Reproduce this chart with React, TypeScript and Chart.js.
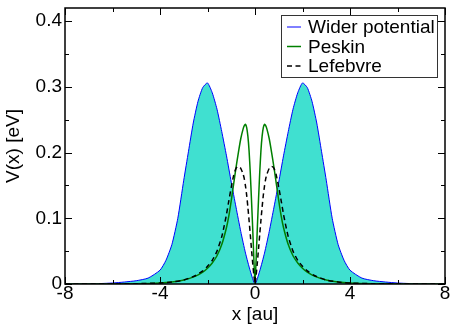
import { useEffect, useRef } from 'react';
import { Chart, registerables } from 'chart.js';

Chart.register(...registerables);

const FONT = '"Liberation Sans", Arial, Helvetica, sans-serif';

// Wider potential (filled)
const wideX = [-8, -7, -6.5, -6, -5.5, -5, -4.5, -4, -3.75, -3.5, -3.25, -3, -2.8, -2.6, -2.4, -2.2, -2, -1.8, -1.6, -1.4, -1.2, -1, -0.8, -0.6, -0.4, -0.2, 0,
  0.2, 0.4, 0.6, 0.8, 1, 1.2, 1.4, 1.6, 1.8, 2, 2.2, 2.4, 2.6, 2.8, 3, 3.25, 3.5, 3.75, 4, 4.5, 5, 5.5, 6, 6.5, 7, 8];
const wideV = [0, 0.0003, 0.0007, 0.0015, 0.003, 0.005, 0.009, 0.021, 0.036, 0.06, 0.1, 0.158, 0.202, 0.245, 0.278, 0.299, 0.306, 0.291, 0.266, 0.232, 0.195, 0.155, 0.117, 0.08, 0.047, 0.02, 0,
  0.02, 0.047, 0.08, 0.117, 0.155, 0.195, 0.232, 0.266, 0.291, 0.306, 0.299, 0.278, 0.245, 0.202, 0.158, 0.1, 0.06, 0.036, 0.021, 0.009, 0.005, 0.003, 0.0015, 0.0007, 0.0003, 0];

// Peskin
const peskinX = [-8, -6, -5, -4, -3.5, -3, -2.5, -2.2, -2, -1.8, -1.6, -1.4, -1.2, -1.1, -1, -0.9, -0.8, -0.7, -0.6, -0.5, -0.45, -0.4, -0.35, -0.3, -0.25, -0.2, -0.15, -0.1, -0.05, 0,
  0.05, 0.1, 0.15, 0.2, 0.25, 0.3, 0.35, 0.4, 0.45, 0.5, 0.6, 0.7, 0.8, 0.9, 1, 1.1, 1.2, 1.4, 1.6, 1.8, 2, 2.2, 2.5, 3, 3.5, 4, 5, 6, 8];
const peskinV = [0, 0.0001, 0.0004, 0.0015, 0.003, 0.006, 0.012, 0.018, 0.024, 0.032, 0.043, 0.06, 0.086, 0.104, 0.127, 0.152, 0.177, 0.2, 0.221, 0.236, 0.241, 0.243, 0.238, 0.225, 0.203, 0.17, 0.13, 0.087, 0.04, 0,
  0.04, 0.087, 0.13, 0.17, 0.203, 0.225, 0.238, 0.243, 0.241, 0.236, 0.221, 0.2, 0.177, 0.152, 0.127, 0.104, 0.086, 0.06, 0.043, 0.032, 0.024, 0.018, 0.012, 0.006, 0.003, 0.0015, 0.0004, 0.0001, 0];

// Lefebvre
const lefebvreX = [-8, -6, -5, -4, -3.5, -3, -2.5, -2.2, -2, -1.8, -1.6, -1.4, -1.3, -1.2, -1.1, -1, -0.9, -0.8, -0.7, -0.6, -0.5, -0.45, -0.4, -0.35, -0.3, -0.25, -0.2, -0.15, -0.1, -0.05, 0,
  0.05, 0.1, 0.15, 0.2, 0.25, 0.3, 0.35, 0.4, 0.45, 0.5, 0.6, 0.7, 0.8, 0.9, 1, 1.1, 1.2, 1.3, 1.4, 1.6, 1.8, 2, 2.2, 2.5, 3, 3.5, 4, 5, 6, 8];
const lefebvreV = [0, 0.0001, 0.0004, 0.0015, 0.003, 0.006, 0.013, 0.02, 0.027, 0.036, 0.05, 0.072, 0.088, 0.106, 0.127, 0.147, 0.165, 0.176, 0.179, 0.176, 0.167, 0.16, 0.149, 0.135, 0.117, 0.097, 0.076, 0.054, 0.033, 0.014, 0,
  0.014, 0.033, 0.054, 0.076, 0.097, 0.117, 0.135, 0.149, 0.16, 0.167, 0.176, 0.179, 0.176, 0.165, 0.147, 0.127, 0.106, 0.088, 0.072, 0.05, 0.036, 0.027, 0.02, 0.013, 0.006, 0.003, 0.0015, 0.0004, 0.0001, 0];

const seriesLabels = ['Wider potential', 'Peskin', 'Lefebvre'];

const toPoints = (xs: number[], vs: number[]) => xs.map((x, i) => ({ x, y: vs[i] }));

const isMultiple = (v: number, step: number) => Math.abs(v / step - Math.round(v / step)) < 1e-6;

// Frame plus inward major/minor ticks on all four sides
const frameTicks = {
  id: 'frameTicks',
  afterDatasetsDraw(chart: any) {
    const { ctx, chartArea: a, scales } = chart;
    const xs = scales.x;
    const ys = scales.y;
    ctx.save();
    ctx.strokeStyle = '#000';
    ctx.lineWidth = 1;
    ctx.beginPath();
    for (const t of xs.ticks) {
      const v = t.value;
      if (!isMultiple(v, 2)) continue;
      const px = Math.round(xs.getPixelForValue(v)) + 0.5;
      const len = isMultiple(v, 4) ? 7 : 4;
      ctx.moveTo(px, a.bottom);
      ctx.lineTo(px, a.bottom - len);
      ctx.moveTo(px, a.top);
      ctx.lineTo(px, a.top + len);
    }
    for (const t of ys.ticks) {
      const v = t.value;
      if (!isMultiple(v, 0.05)) continue;
      const py = Math.round(ys.getPixelForValue(v)) + 0.5;
      const len = isMultiple(v, 0.1) ? 7 : 4;
      ctx.moveTo(a.left, py);
      ctx.lineTo(a.left + len, py);
      ctx.moveTo(a.right, py);
      ctx.lineTo(a.right - len, py);
    }
    ctx.stroke();
    ctx.lineWidth = 1.5;
    ctx.strokeRect(a.left, a.top, a.right - a.left, a.bottom - a.top);
    ctx.restore();
  },
};

// Boxed legend in the upper right corner
const boxLegend = {
  id: 'boxLegend',
  afterDraw(chart: any) {
    const { ctx } = chart;
    const x0 = 281.5;
    const y0 = 15.5;
    const w = 156;
    const h = 62;
    ctx.save();
    ctx.fillStyle = '#fff';
    ctx.fillRect(x0, y0, w, h);
    ctx.strokeStyle = '#333';
    ctx.lineWidth = 1;
    ctx.strokeRect(x0, y0, w, h);
    ctx.font = `19px ${FONT}`;
    ctx.textBaseline = 'middle';
    chart.data.datasets.forEach((ds: any, i: number) => {
      const y = 27 + i * 19.5;
      ctx.beginPath();
      ctx.strokeStyle = ds.borderColor;
      ctx.lineWidth = ds.borderWidth;
      ctx.setLineDash(ds.borderDash || []);
      ctx.moveTo(287, y);
      ctx.lineTo(301, y);
      ctx.stroke();
      ctx.setLineDash([]);
      ctx.fillStyle = '#000';
      ctx.fillText(ds.label, 308, y + 1);
    });
    ctx.restore();
  },
};

export default function App() {
  const canvasRef = useRef<HTMLCanvasElement>(null);

  useEffect(() => {
    const canvas = canvasRef.current;
    if (!canvas) return;
    const chart = new Chart(canvas, {
      type: 'line',
      data: {
        datasets: [
          {
            label: seriesLabels[0],
            data: toPoints(wideX, wideV),
            borderColor: '#0000ff',
            borderWidth: 1,
            backgroundColor: '#40e0d0',
            fill: 'origin',
            pointRadius: 0,
            tension: 0.2,
            order: 3,
          },
          {
            label: seriesLabels[1],
            data: toPoints(peskinX, peskinV),
            borderColor: '#008000',
            borderWidth: 1.5,
            fill: false,
            pointRadius: 0,
            tension: 0.2,
            order: 2,
          },
          {
            label: seriesLabels[2],
            data: toPoints(lefebvreX, lefebvreV),
            borderColor: '#000000',
            borderWidth: 1.5,
            borderDash: [5, 3.5],
            fill: false,
            pointRadius: 0,
            tension: 0.2,
            order: 1,
          },
        ],
      },
      options: {
        responsive: false,
        animation: false,
        devicePixelRatio: 1,
        layout: { padding: { top: 8, right: 5, left: 0, bottom: 0 } },
        plugins: {
          legend: { display: false },
          tooltip: { enabled: false },
        },
        scales: {
          x: {
            type: 'linear',
            min: -8,
            max: 8,
            grid: { display: false, drawTicks: false },
            border: { display: false },
            ticks: {
              stepSize: 2,
              autoSkip: false,
              maxRotation: 0,
              padding: -2,
              color: '#000',
              font: { family: FONT, size: 19 },
              callback: (v: any) => (isMultiple(Number(v), 4) ? String(v) : ''),
            },
            title: {
              display: true,
              text: 'x [au]',
              color: '#000',
              font: { family: FONT, size: 19, lineHeight: 1 },
              padding: { top: 0, bottom: 0 },
            },
            afterFit: (s: any) => {
              s.height = 40;
              s.paddingLeft = 0;
              s.paddingRight = 0;
            },
          },
          y: {
            type: 'linear',
            min: 0,
            max: 0.42,
            grid: { display: false, drawTicks: false },
            border: { display: false },
            ticks: {
              stepSize: 0.05,
              includeBounds: false,
              autoSkip: false,
              padding: 3,
              color: '#000',
              font: { family: FONT, size: 19 },
              callback: (v: any) => {
                const n = Number(v);
                if (!isMultiple(n, 0.1)) return '';
                const r = Math.round(n * 10);
                return r === 0 ? '0' : (r / 10).toFixed(1);
              },
            },
            title: {
              display: true,
              text: 'V(x) [eV]',
              color: '#000',
              font: { family: FONT, size: 19, lineHeight: 1 },
              padding: { top: 4, bottom: 0 },
            },
            afterFit: (s: any) => {
              s.width = 65;
              s.paddingTop = 0;
              s.paddingBottom = 0;
            },
          },
        },
      },
      plugins: [frameTicks, boxLegend],
    });
    return () => chart.destroy();
  }, []);

  return (
    <div style={{ position: 'absolute', left: 0, top: 0, width: 450, height: 324 }}>
      <canvas ref={canvasRef} width={450} height={324} style={{ display: 'block' }} />
    </div>
  );
}
